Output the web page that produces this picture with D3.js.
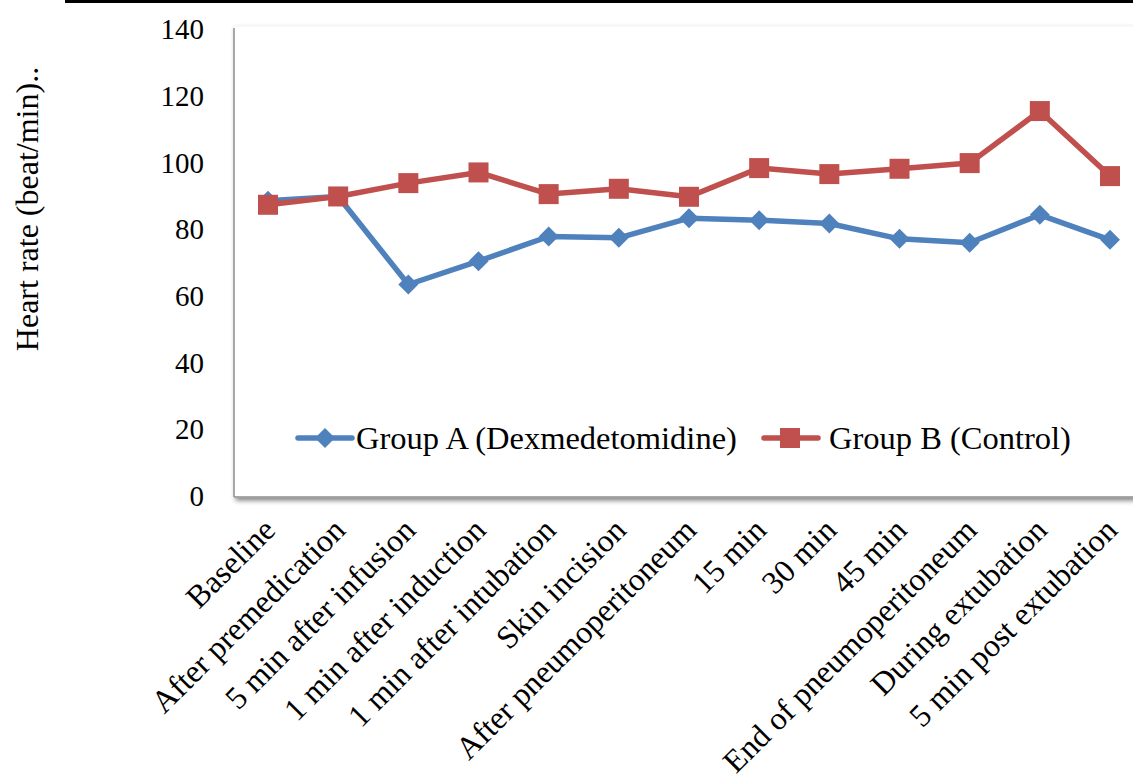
<!DOCTYPE html>
<html>
<head>
<meta charset="utf-8">
<script src="https://cdn.jsdelivr.net/npm/d3@7"></script>
<style>
  html, body { margin: 0; padding: 0; background: #fff; }
  svg { display: block; }
  text { font-family: "Liberation Serif", "Times New Roman", serif; fill: #000; }
</style>
</head>
<body>
<svg id="chart" width="1133" height="774"></svg>
<script>
const categories = ["Baseline", "After premedication", "5 min after infusion", "1 min after induction",
  "1 min after intubation", "Skin incision", "After pneumoperitoneum", "15 min", "30 min", "45 min",
  "End of pneumoperitoneum", "During extubation", "5 min post extubation"];
const groupA = [88.8, 90.1, 63.7, 70.7, 78.1, 77.7, 83.6, 83.0, 82.0, 77.4, 76.2, 84.6, 77.1];
const groupB = [87.6, 90.1, 94.1, 97.3, 90.8, 92.4, 90.0, 98.6, 96.8, 98.4, 100.1, 115.7, 96.2];
const yTicks = [0, 20, 40, 60, 80, 100, 120, 140];
const seriesNames = ["Group A (Dexmedetomidine)", "Group B (Control)"];
const yTitle = "Heart rate (beat/min)..";

const svg = d3.select("#chart");
const blue = "#4F81BD", red = "#C0504D";

const x = d3.scalePoint().domain(categories).range([268, 1110]);
const y = d3.scaleLinear().domain([0, 140]).range([497, 30]);

// top rule
svg.append("line").attr("x1", 65).attr("x2", 1133).attr("y1", 1.5).attr("y2", 1.5)
  .attr("stroke", "#000").attr("stroke-width", 3);

// shadow filter
const defs = svg.append("defs");
const f = defs.append("filter").attr("id", "sh").attr("x", "-5%").attr("y", "-5%").attr("width", "110%").attr("height", "120%");
f.append("feGaussianBlur").attr("in", "SourceAlpha").attr("stdDeviation", 2.5);
f.append("feOffset").attr("dx", 2).attr("dy", 3).attr("result", "ob");
f.append("feComponentTransfer").append("feFuncA").attr("type", "linear").attr("slope", 0.5);
const m = f.append("feMerge");
m.append("feMergeNode");
m.append("feMergeNode").attr("in", "SourceGraphic");

svg.append("rect").attr("x", 234).attr("y", 26).attr("width", 940).attr("height", 471)
  .attr("fill", "#fff").attr("stroke", "#f3f3f3").attr("filter", "url(#sh)");

// axes
const yAxis = svg.append("g").attr("transform", "translate(234,0)")
  .call(d3.axisLeft(y).tickValues(yTicks).tickSize(0).tickPadding(30));
yAxis.select(".domain").attr("stroke", "#8c8c8c").attr("stroke-width", 1.5).attr("d", `M0,${y(0)}V28`);
yAxis.selectAll("text").attr("font-size", 29).attr("dy", "0.3em")
  .style("font-family", "'Liberation Serif', serif");

svg.append("line").attr("x1", 234).attr("x2", 1133).attr("y1", y(0)).attr("y2", y(0))
  .attr("stroke", "#8c8c8c").attr("stroke-width", 1.5);

// x labels
svg.append("g").selectAll("text").data(categories).join("text")
  .attr("transform", d => `translate(${x(d) + 9},${532}) rotate(-45)`)
  .attr("text-anchor", "end").attr("font-size", 32).text(d => d);

// y title
svg.append("text").attr("transform", `translate(38,209) rotate(-90)`)
  .attr("text-anchor", "middle").attr("font-size", 32).text(yTitle);

// lines
const line = d3.line().x((d, i) => x(categories[i])).y(d => y(d));
svg.append("path").datum(groupA).attr("d", line).attr("fill", "none").attr("stroke", blue).attr("stroke-width", 5.5).attr("stroke-linejoin", "round");
svg.append("path").datum(groupB).attr("d", line).attr("fill", "none").attr("stroke", red).attr("stroke-width", 5.5).attr("stroke-linejoin", "round");

const diamond = d3.symbol().type(d3.symbolSquare).size(200);
svg.append("g").selectAll("path").data(groupA).join("path")
  .attr("d", diamond()).attr("fill", blue)
  .attr("transform", (d, i) => `translate(${x(categories[i])},${y(d)}) rotate(45)`);
svg.append("g").selectAll("rect").data(groupB).join("rect")
  .attr("x", (d, i) => x(categories[i]) - 10).attr("y", d => y(d) - 10)
  .attr("width", 20).attr("height", 20).attr("fill", red);

// legend
const lg = svg.append("g");
lg.append("line").attr("x1", 298).attr("x2", 352).attr("y1", 438).attr("y2", 438).attr("stroke", blue).attr("stroke-width", 5.5).attr("stroke-linecap", "round");
lg.append("path").attr("d", diamond()).attr("fill", blue).attr("transform", "translate(325,438) rotate(45)");
lg.append("text").attr("x", 356).attr("y", 449).attr("font-size", 32.5).text(seriesNames[0]);
lg.append("line").attr("x1", 764).attr("x2", 818).attr("y1", 438).attr("y2", 438).attr("stroke", red).attr("stroke-width", 5.5).attr("stroke-linecap", "round");
lg.append("rect").attr("x", 780).attr("y", 428).attr("width", 20).attr("height", 20).attr("fill", red);
lg.append("text").attr("x", 829).attr("y", 449).attr("font-size", 32.5).text(seriesNames[1]);
</script>
</body>
</html>
